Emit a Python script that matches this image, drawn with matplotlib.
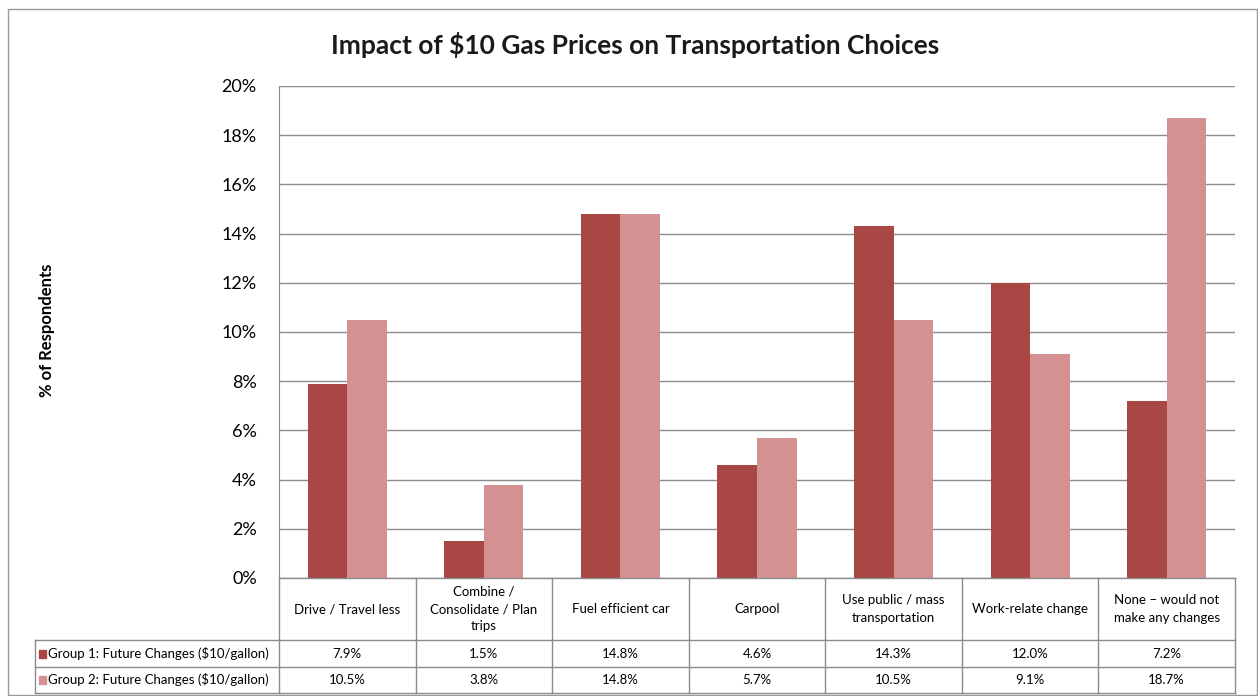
import numpy as np
import matplotlib.pyplot as plt
from matplotlib.patches import Rectangle
from matplotlib.lines import Line2D

plt.rcParams['font.family'] = ['Lato', 'DejaVu Sans']

# data
categories = ['Drive / Travel less', 'Combine /\nConsolidate / Plan\ntrips', 'Fuel efficient car',
              'Carpool', 'Use public / mass\ntransportation', 'Work-relate change',
              'None \u2013 would not\nmake any changes']
group1 = [7.9, 1.5, 14.8, 4.6, 14.3, 12.0, 7.2]
group2 = [10.5, 3.8, 14.8, 5.7, 10.5, 9.1, 18.7]
series_names = [r'Group 1: Future Changes (\$10/gallon)', r'Group 2: Future Changes (\$10/gallon)']
dark = '#A94745'
light = '#D39291'
grid_c = '#8c8c8c'

W, H = 1258, 696
fig = plt.figure(figsize=(W / 100, H / 100), dpi=100)

def fx(px):
    return px / W

def fy(py):
    return 1 - py / H

# outer frame
fig.patches.append(Rectangle((fx(8), fy(695)), fx(1249), fy(9) - fy(695),
                             transform=fig.transFigure, fill=False, ec='#9a9a9a', lw=1))

# plot area
left, right, top, bottom = 279, 1235, 86, 578
ax = fig.add_axes([fx(left), fy(bottom), fx(right - left), fy(top) - fy(bottom)])
x = np.arange(len(categories))
bw = 0.29
ax.bar(x - bw / 2, group1, bw, color=dark, zorder=3)
ax.bar(x + bw / 2, group2, bw, color=light, zorder=3)
ax.set_xlim(-0.5, len(categories) - 0.5)
ax.set_ylim(0, 20)
ax.set_yticks(np.arange(0, 21, 2))
ax.set_yticklabels([f'{v}%' for v in range(0, 21, 2)], fontsize=13)
ax.yaxis.grid(True, color=grid_c, lw=1, zorder=0)
ax.set_xticks([])
for s in ['top', 'right', 'bottom']:
    ax.spines[s].set_visible(False)
ax.spines['left'].set_color(grid_c)
ax.tick_params(axis='y', length=0, pad=16)

fig.text(fx(635), fy(45), r'Impact of \$10 Gas Prices on Transportation Choices',
         ha='center', va='center', fontsize=19, fontweight='bold', color='#1a1a1a')
fig.text(fx(47), fy(330), '% of Respondents', rotation=90, ha='center', va='center',
         fontsize=12, fontweight='bold')

# data table under the plot
hdr_bot, r1_bot, r2_bot = 640, 667, 693
lbl_left = 35
cw = (right - left) / len(categories)

def hline(y, x0, x1):
    fig.add_artist(Line2D([fx(x0), fx(x1)], [fy(y), fy(y)], color=grid_c, lw=1))

def vline(xp, y0, y1):
    fig.add_artist(Line2D([fx(xp), fx(xp)], [fy(y0), fy(y1)], color=grid_c, lw=1))

hline(bottom, left, right)
hline(hdr_bot, lbl_left, right)
hline(r1_bot, lbl_left, right)
hline(r2_bot, lbl_left, right)
vline(lbl_left, hdr_bot, r2_bot)
for i in range(len(categories) + 1):
    vline(left + i * cw, bottom, r2_bot)

for i, cat in enumerate(categories):
    cx = left + (i + 0.5) * cw
    fig.text(fx(cx), fy((bottom + hdr_bot) / 2), cat, ha='center', va='center',
             fontsize=9.5, linespacing=1.5)
    fig.text(fx(cx), fy((hdr_bot + r1_bot) / 2), f'{group1[i]:.1f}%', ha='center', va='center', fontsize=9.5)
    fig.text(fx(cx), fy((r1_bot + r2_bot) / 2), f'{group2[i]:.1f}%', ha='center', va='center', fontsize=9.5)

for name, col, (y0, y1) in zip(series_names, [dark, light], [(hdr_bot, r1_bot), (r1_bot, r2_bot)]):
    yc = (y0 + y1) / 2
    fig.patches.append(Rectangle((fx(39), fy(yc + 4)), fx(7), fy(yc - 4) - fy(yc + 4),
                                 transform=fig.transFigure, color=col))
    fig.text(fx(48), fy(yc), name, ha='left', va='center', fontsize=9.5)

fig.savefig('out.png', dpi=100)
